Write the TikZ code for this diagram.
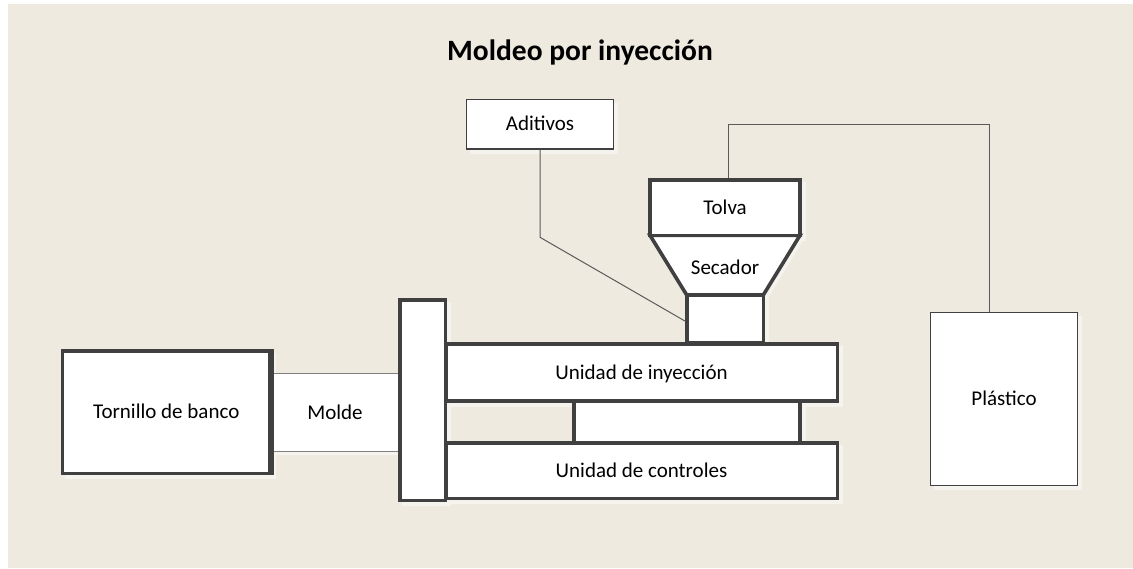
\documentclass[tikz,border=0pt]{standalone}
\usepackage{fontspec}
\setmainfont{Carlito}
\usetikzlibrary{calc}
\pgfdeclarelayer{back}
\pgfdeclarelayer{shadowl}
\pgfsetlayers{back,shadowl,main}
\definecolor{bgbeige}{RGB}{238,234,224}
\definecolor{shadowc}{RGB}{245,243,237}
\definecolor{linec}{RGB}{64,64,64}
\definecolor{thinc}{RGB}{90,90,90}
\definecolor{moldc}{RGB}{128,128,128}
\tikzset{
  thickbox/.style={draw=linec,line width=3.6pt,fill=white,rectangle,inner sep=0pt,
    text height=13.5pt,text depth=0pt,font=\fontsize{21}{25}\selectfont},
  thinbox/.style={draw=linec,line width=1.2pt,fill=white,rectangle,inner sep=0pt,
    text height=13.5pt,text depth=0pt,font=\fontsize{21}{25}\selectfont},
  moldbox/.style={fill=white,rectangle,inner sep=0pt,
    text height=13.5pt,text depth=0pt,font=\fontsize{21}{25}\selectfont},
  conn/.style={draw=thinc,line width=1pt},
  lbl/.style={inner sep=0pt,text height=13.5pt,text depth=0pt,font=\fontsize{21}{25}\selectfont},
  shadowfill/.style={fill=shadowc}
}
\begin{document}
\begin{tikzpicture}[x=1pt,y=-1pt]
\useasboundingbox (0,0) rectangle (1133,568);
\begin{pgfonlayer}{back}
\fill[white] (0,0) rectangle (1133,568);
\fill[bgbeige] (8,4) rectangle (1133,568);
\end{pgfonlayer}
% title
\node[anchor=base,inner sep=0pt,font=\fontsize{29.5}{35}\selectfont\bfseries] (title) at (580,60) {Moldeo por inyección};
% connector coordinates
\coordinate (p1) at (728.3,124.3);
\coordinate (p2) at (989.3,124.3);
\coordinate (a1) at (540,237.3);
% left side
\node[thickbox,minimum width=207.3pt,minimum height=122.3pt] (tornillo) at (166.3,412.2) {Tornillo de banco};
\node[moldbox,minimum width=130pt,minimum height=77pt] (molde) at (335,412.5) {Molde};
\draw[draw=moldc,line width=1.2pt] (molde.north west) -- (molde.north east);
\draw[draw=moldc,line width=1.2pt] (molde.south west) -- (molde.south east);
\draw[draw=linec,line width=3.6pt] (tornillo.north east) -- (tornillo.south east);
% units
\node[thickbox,minimum width=226pt,minimum height=42pt] (middle) at (687,422) {};
\node[thickbox,minimum width=391.6pt,minimum height=57pt] (inyeccion) at (641.5,372.5) {Unidad de inyección};
\node[thickbox,minimum width=391.6pt,minimum height=55.5pt] (controles) at (641.5,470.8) {Unidad de controles};
\node[thickbox,minimum width=45.7pt,minimum height=200.7pt] (plate) at (422.8,400.3) {};
% hopper
\node[thickbox,minimum width=76.6pt,minimum height=48pt] (neck) at (725,319) {};
\coordinate (s1) at (650,235.3);
\coordinate (s2) at (800,235.3);
\coordinate (s3) at (763.3,295);
\coordinate (s4) at (686.7,295);
\filldraw[fill=white,draw=linec,line width=3.6pt,line join=miter] (s1) -- (s2) -- (s3) -- (s4) -- cycle;
\node[lbl] (secador) at (725,267.7) {Secador};
\node[thickbox,minimum width=150pt,minimum height=55.3pt] (tolva) at (725,207.7) {Tolva};
% other
\node[thinbox,minimum width=146.6pt,minimum height=49.7pt] (aditivos) at (540,124.2) {Aditivos};
\node[thinbox,minimum width=146.6pt,minimum height=173.4pt] (plastico) at (1004,399) {Plástico};
% connector lines
\draw[conn] (aditivos.south) -- (a1) -- ([yshift=-2pt]neck.west);
\draw[conn] (tolva.north -| p1) -- (p1) -- (p2) -- (p2 |- plastico.north);
% faint shadows
\begin{pgfonlayer}{shadowl}
\foreach \n in {tornillo,molde,middle,inyeccion,controles,plate,neck,tolva,aditivos,plastico}{
  \fill[shadowfill] ($(\n.north west)+(4,4)$) rectangle ($(\n.south east)+(4,4)$);
}
\fill[shadowfill] ($(s1)+(4,4)$) -- ($(s2)+(4,4)$) -- ($(s3)+(4,4)$) -- ($(s4)+(4,4)$) -- cycle;
\end{pgfonlayer}
\end{tikzpicture}
\end{document}
